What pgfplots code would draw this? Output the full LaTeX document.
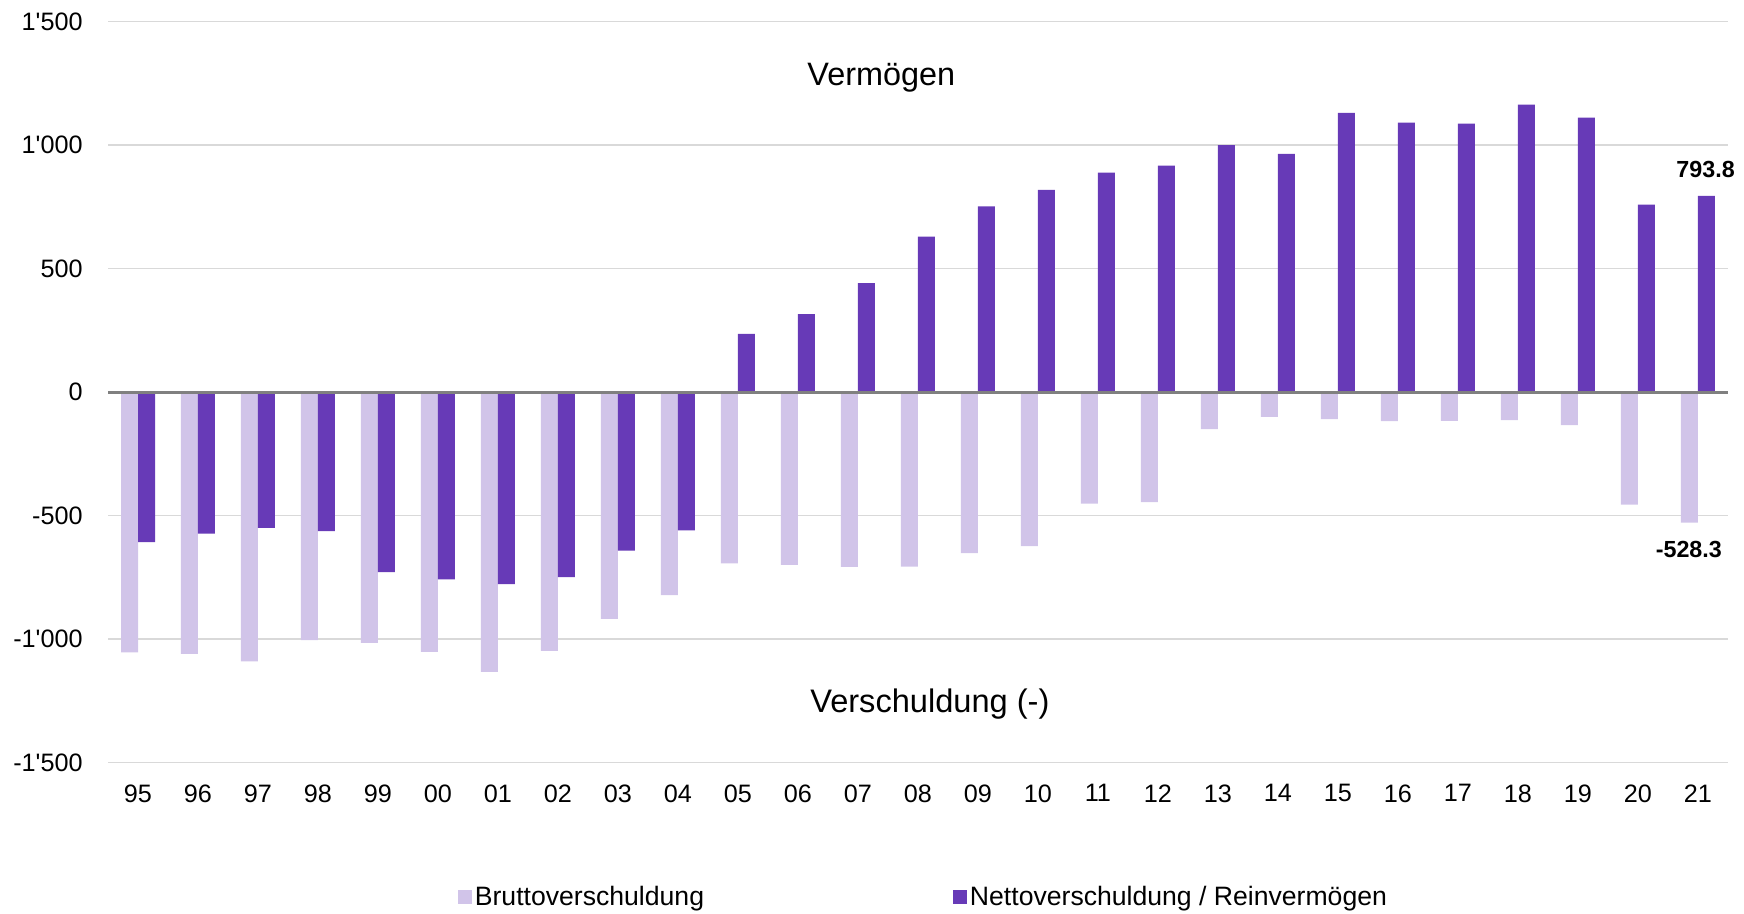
\documentclass[border=0pt]{standalone}
\usepackage{pgfplots}
\pgfplotsset{compat=1.18}
\usepackage{fontspec}
\setmainfont{Liberation Sans}
\definecolor{lightp}{HTML}{D1C4E9}
\definecolor{darkp}{HTML}{673AB7}
\definecolor{gridc}{RGB}{217,217,217}
\definecolor{zeroc}{RGB}{128,128,128}
\newcommand{\q}{\textquotesingle}
\begin{document}
\begin{tikzpicture}
\useasboundingbox (-54pt,-75.15pt) rectangle (817.95pt,381.35pt);
\begin{axis}[
  at={(0,0)}, anchor=south west,
  scale only axis, width=809.85pt, height=370.6pt,
  xmin=-0.5, xmax=26.5, ymin=-1500, ymax=1500,
  axis line style={draw=none},
  major tick length=0pt,
  xtick={0,...,26},
  xticklabels={95,96,97,98,99,00,01,02,03,04,05,06,07,08,09,10,11,12,13,14,15,16,17,18,19,20,21},
  ytick={-1500,-1000,-500,0,500,1000,1500},
  yticklabels={-1\q500,-1\q000,-500,0,500,1\q000,1\q500},
  ymajorgrids, grid style={gridc, line width=0.75pt},
  ybar=0pt, bar width=8.5pt,
  ticklabel style={font=\fontsize{12.6}{15}\selectfont},
  yticklabel style={anchor=east, inner sep=0pt, xshift=-12.5pt},
  xticklabel style={anchor=north, inner sep=0pt, yshift=-10.65pt},
  clip=false,
  legend columns=2,
  legend style={at={(0.504,-0.182)}, anchor=center, draw=none, fill=none,
    font=\fontsize{13.3}{16}\selectfont,
    /tikz/every odd column/.append style={column sep=-0.6pt},
    /tikz/every even column/.append style={column sep=122.4pt}},
  legend image code/.code={\fill[#1] (0pt,-3.2pt) rectangle (7.15pt,3.95pt);},
]
\addplot[fill=lightp, draw=none] coordinates {
 (0,-1053) (1,-1059) (2,-1090) (3,-1004) (4,-1015) (5,-1051) (6,-1132) (7,-1047) (8,-918) (9,-822)
 (10,-693) (11,-699) (12,-707) (13,-706) (14,-652) (15,-623) (16,-451) (17,-445) (18,-150) (19,-100)
 (20,-109) (21,-117) (22,-116) (23,-113) (24,-134) (25,-455) (26,-528.3)};
\addlegendentry{Bruttoverschuldung}
\addplot[fill=darkp, draw=none] coordinates {
 (0,-607) (1,-573) (2,-549) (3,-563) (4,-729) (5,-758) (6,-777) (7,-749) (8,-642) (9,-560)
 (10,236) (11,316) (12,441) (13,629) (14,752) (15,819) (16,888) (17,917) (18,1000) (19,964)
 (20,1130) (21,1091) (22,1087) (23,1164) (24,1111) (25,759) (26,793.8)};
\addlegendentry{Nettoverschuldung / Reinvermögen}
\draw[zeroc, line width=1.5pt] (axis cs:-0.5,0) -- (axis cs:26.5,0);
\node[anchor=base, font=\fontsize{16.2}{19}\selectfont] at (axis cs:12.39,1239) {Vermögen};
\node[anchor=base, font=\fontsize{16.3}{19}\selectfont] at (axis cs:13.2,-1298) {Verschuldung (-)};
\node[anchor=base, font=\fontsize{11.65}{14}\selectfont\bfseries] at (axis cs:26.13,868) {793.8};
\node[anchor=base, font=\fontsize{11.65}{14}\selectfont\bfseries] at (axis cs:25.85,-670.5) {-528.3};
\end{axis}
\end{tikzpicture}
\end{document}
